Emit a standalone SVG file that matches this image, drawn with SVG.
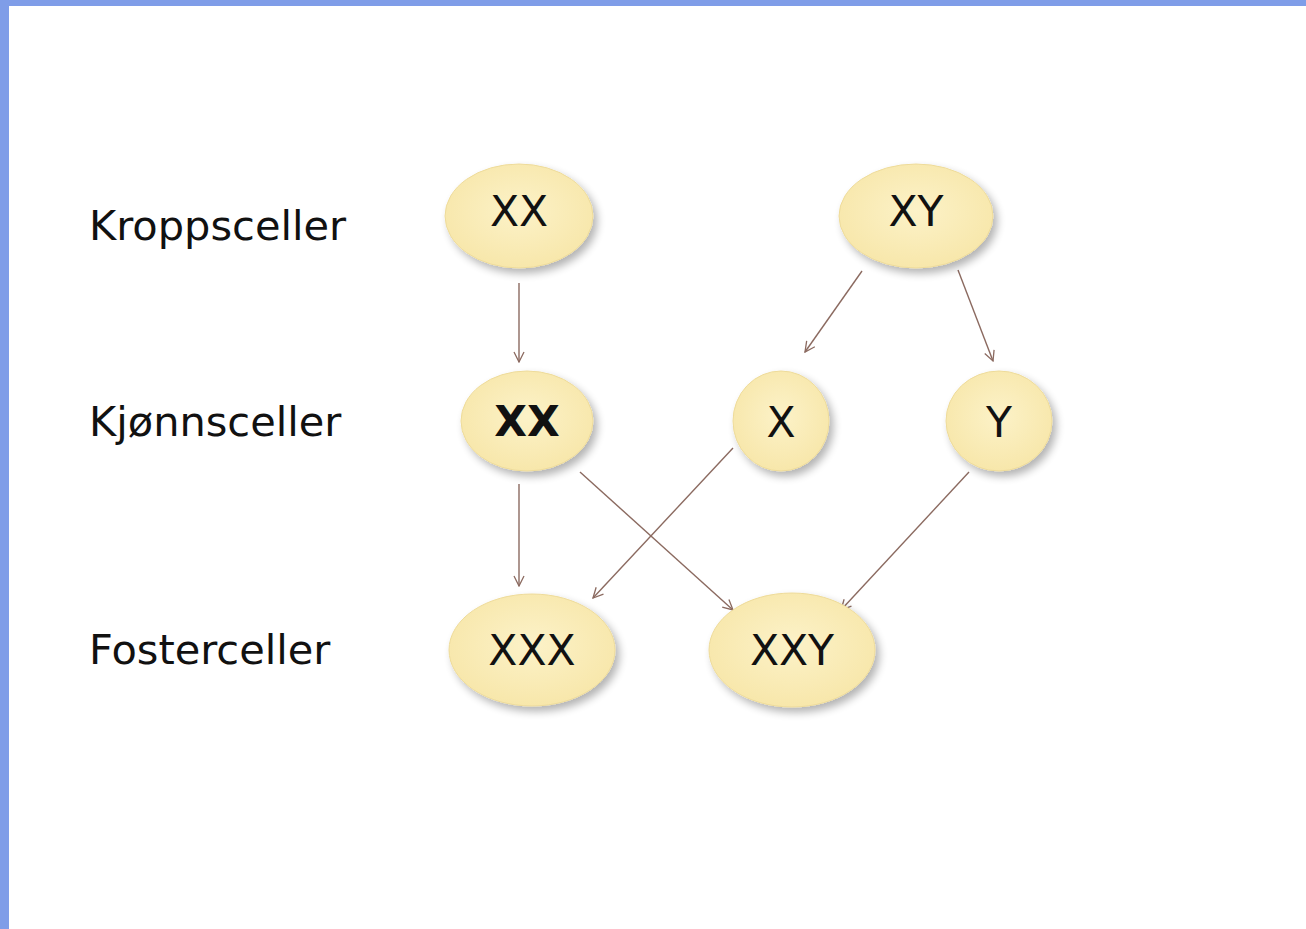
<svg xmlns="http://www.w3.org/2000/svg" width="1306" height="929" viewBox="0 0 1306 929">
<defs>
<radialGradient id="fillG" cx="50%" cy="45%" r="60%">
<stop offset="0" stop-color="#fcf2c8"/>
<stop offset="1" stop-color="#f7e6a8"/>
</radialGradient>
<filter id="sh" x="-20%" y="-20%" width="150%" height="150%">
<feGaussianBlur in="SourceAlpha" stdDeviation="4"/>
<feOffset dx="4" dy="5" result="b"/>
<feComponentTransfer><feFuncA type="linear" slope="0.3"/></feComponentTransfer>
<feMerge><feMergeNode/><feMergeNode in="SourceGraphic"/></feMerge>
</filter>
<marker id="arr" viewBox="0 0 12 12" refX="11" refY="6" markerWidth="12" markerHeight="12" markerUnits="userSpaceOnUse" orient="auto">
<path d="M1,1 L11,6 L1,11" fill="none" stroke="#8b6a60" stroke-width="1.3"/>
</marker>
</defs>
<style>
.lbl{font-family:"DejaVu Sans",Verdana,sans-serif;font-size:41.5px;fill:#111}
.nt{font-family:"DejaVu Sans",Verdana,sans-serif;font-size:42.5px;fill:#111;text-anchor:middle}
.cell{fill:url(#fillG);stroke:#eedb9a;stroke-width:1;filter:url(#sh)}
.con{stroke:#8b6a60;stroke-width:1.4;fill:none;marker-end:url(#arr)}
</style>
<rect x="0" y="0" width="1306" height="929" fill="#ffffff"/>
<rect x="0" y="0" width="1306" height="6" fill="#7f9de8"/>
<rect x="0" y="0" width="9" height="929" fill="#7f9de8"/>
<g id="labels">
<text class="lbl" x="89" y="240">Kroppsceller</text>
<text class="lbl" x="89" y="436">Kjønnsceller</text>
<text class="lbl" x="89" y="664">Fosterceller</text>
</g>
<g id="connectors">
<line class="con" x1="519" y1="283" x2="519" y2="362"/>
<line class="con" x1="862" y1="271" x2="805" y2="352"/>
<line class="con" x1="958" y1="270" x2="993" y2="361"/>
<line class="con" x1="519" y1="484" x2="519" y2="586"/>
<line class="con" x1="580" y1="472" x2="733" y2="610"/>
<line class="con" x1="733" y1="448" x2="593" y2="598"/>
<line class="con" x1="969" y1="472" x2="841" y2="610"/>
</g>
<g id="node-xx-body">
<ellipse class="cell" cx="519" cy="216" rx="74" ry="52"/>
<text class="nt" x="519" y="226">XX</text>
</g>
<g id="node-xy-body">
<ellipse class="cell" cx="916" cy="216" rx="77" ry="52"/>
<text class="nt" x="916" y="226">XY</text>
</g>
<g id="node-xx-gamete">
<ellipse class="cell" cx="527" cy="421" rx="66" ry="50"/>
<text class="nt" x="527" y="436" font-weight="bold" font-size="40px">XX</text>
</g>
<g id="node-x">
<ellipse class="cell" cx="781" cy="421" rx="48" ry="50"/>
<text class="nt" x="781" y="437">X</text>
</g>
<g id="node-y">
<ellipse class="cell" cx="999" cy="421" rx="53" ry="50"/>
<text class="nt" x="999" y="437">Y</text>
</g>
<g id="node-xxx">
<ellipse class="cell" cx="532" cy="650" rx="83" ry="56"/>
<text class="nt" x="532" y="665">XXX</text>
</g>
<g id="node-xxy">
<ellipse class="cell" cx="792" cy="650" rx="83" ry="57"/>
<text class="nt" x="792" y="665">XXY</text>
</g>
</svg>
